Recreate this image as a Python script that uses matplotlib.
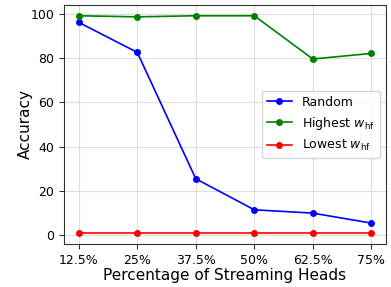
import matplotlib
matplotlib.use('Agg')
import matplotlib.pyplot as plt
import numpy as np

percentages = ['12.5%', '25%', '37.5%', '50%', '62.5%', '75%']
random_acc = [96, 82.5, 25.5, 11.5, 10, 5.5]
highest_acc = [99, 98.5, 99, 99, 79.5, 82]
lowest_acc = [1, 1, 1, 1, 1, 1]

fig, ax = plt.subplots(figsize=(3.91, 2.87), dpi=100)
x = np.arange(len(percentages))
ax.plot(x, random_acc, color='blue', marker='o', markersize=4, linewidth=1.2, label='Random')
ax.plot(x, highest_acc, color='green', marker='o', markersize=4, linewidth=1.2, label=r'Highest $w_{\rm hf}$')
ax.plot(x, lowest_acc, color='red', marker='o', markersize=4, linewidth=1.2, label=r'Lowest $w_{\rm hf}$')

ax.set_xticks(x)
ax.set_xticklabels(percentages, fontsize=9)
ax.tick_params(axis='y', labelsize=9)
ax.tick_params(color='#333333')
for s in ax.spines.values():
    s.set_color('#333333')
ax.set_xlabel('Percentage of Streaming Heads', fontsize=11, labelpad=1)
ax.set_ylabel('Accuracy', fontsize=11, labelpad=-2)
ax.grid(True, color='#dddddd', linewidth=0.8)
ax.legend(fontsize=9, loc='center right')

plt.subplots_adjust(left=0.164, right=0.987, top=0.983, bottom=0.15)
plt.savefig('out.png')
